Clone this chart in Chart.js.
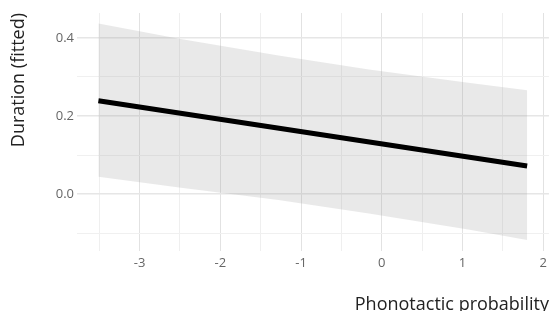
<!DOCTYPE html>
<html>
<head>
<meta charset="utf-8">
<script src="https://cdn.jsdelivr.net/npm/chart.js@4"></script>
<style>
  body { margin: 0; background: #fff; }
  #wrap { width: 551px; height: 311px; }
</style>
</head>
<body>
<div id="wrap"><canvas id="chart" width="551" height="311"></canvas></div>
<script>
// fitted line
const fitX = [-3.51, 1.8];
const fitY = [0.239, 0.072];

// confidence band
const bandX = [-3.51, -2.51, -1.28, -0.16, 1.07, 1.8];
const bandUpper = [0.437, 0.398, 0.355, 0.319, 0.285, 0.266];
const bandLower = [0.044, 0.017, -0.015, -0.050, -0.091, -0.118];

// grid / ticks
const xTicks = [-3.5, -3, -2.5, -2, -1.5, -1, -0.5, 0, 0.5, 1, 1.5, 2];
const yTicks = [-0.1, 0, 0.1, 0.2, 0.3, 0.4];

const toPts = (xs, ys) => xs.map((x, i) => ({ x: x, y: ys[i] }));

const isMajorX = v => Number.isInteger(v);
const isMajorY = v => Math.round(v * 10) % 2 === 0;

const ctx = document.getElementById('chart').getContext('2d');
new Chart(ctx, {
    type: 'line',
    data: {
        datasets: [
            {
                label: 'fit',
                data: toPts(fitX, fitY),
                borderColor: '#000',
                borderWidth: 5,
                borderCapStyle: 'butt',
                pointRadius: 0,
                fill: false
            },
            {
                label: 'upper',
                data: toPts(bandX, bandUpper),
                borderWidth: 0,
                borderColor: 'rgba(0,0,0,0)',
                backgroundColor: 'rgba(153,153,153,0.22)',
                pointRadius: 0,
                fill: '+1'
            },
            {
                label: 'lower',
                data: toPts(bandX, bandLower),
                borderWidth: 0,
                borderColor: 'rgba(0,0,0,0)',
                pointRadius: 0,
                fill: false
            }
        ]
    },
    options: {
        responsive: false,
        animation: false,
        layout: { padding: { top: 13, right: 0, left: 0, bottom: 0 } },
        plugins: {
            legend: { display: false },
            tooltip: { enabled: false }
        },
        scales: {
            x: {
                type: 'linear',
                min: -3.775,
                max: 2.07,
                afterBuildTicks: s => { s.ticks = xTicks.map(v => ({ value: v })); },
                afterFit: s => { s.height = 60; },
                border: { display: false },
                grid: {
                    drawTicks: false,
                    color: c => isMajorX(c.tick.value) ? '#e2e2e2' : '#efefef',
                    lineWidth: 1
                },
                ticks: {
                    padding: 4,
                    color: '#666',
                    font: { family: 'Open Sans', size: 13 },
                    autoSkip: false,
                    maxRotation: 0,
                    callback: v => isMajorX(v) ? String(v) : ''
                },
                title: {
                    display: true,
                    text: 'Phonotactic probability',
                    align: 'end',
                    color: '#222',
                    font: { family: 'Open Sans', size: 18, lineHeight: 1 },
                    padding: { top: 0, bottom: -3 }
                }
            },
            y: {
                min: -0.146,
                max: 0.464,
                afterBuildTicks: s => { s.ticks = yTicks.map(v => ({ value: v })); },
                afterFit: s => { s.width = 77; },
                border: { display: false },
                grid: {
                    drawTicks: false,
                    color: c => isMajorY(c.tick.value) ? '#e6e6e6' : '#f0f0f0',
                    lineWidth: c => isMajorY(c.tick.value) ? 1.5 : 1
                },
                ticks: {
                    padding: 3,
                    color: '#666',
                    font: { family: 'Open Sans', size: 13 },
                    autoSkip: false,
                    callback: v => isMajorY(v) ? v.toFixed(1) : ''
                },
                title: {
                    display: true,
                    text: 'Duration (fitted)',
                    align: 'end',
                    color: '#222',
                    font: { family: 'Open Sans', size: 18 },
                    padding: { top: 8, bottom: 0 }
                }
            }
        }
    }
});
</script>
</body>
</html>
